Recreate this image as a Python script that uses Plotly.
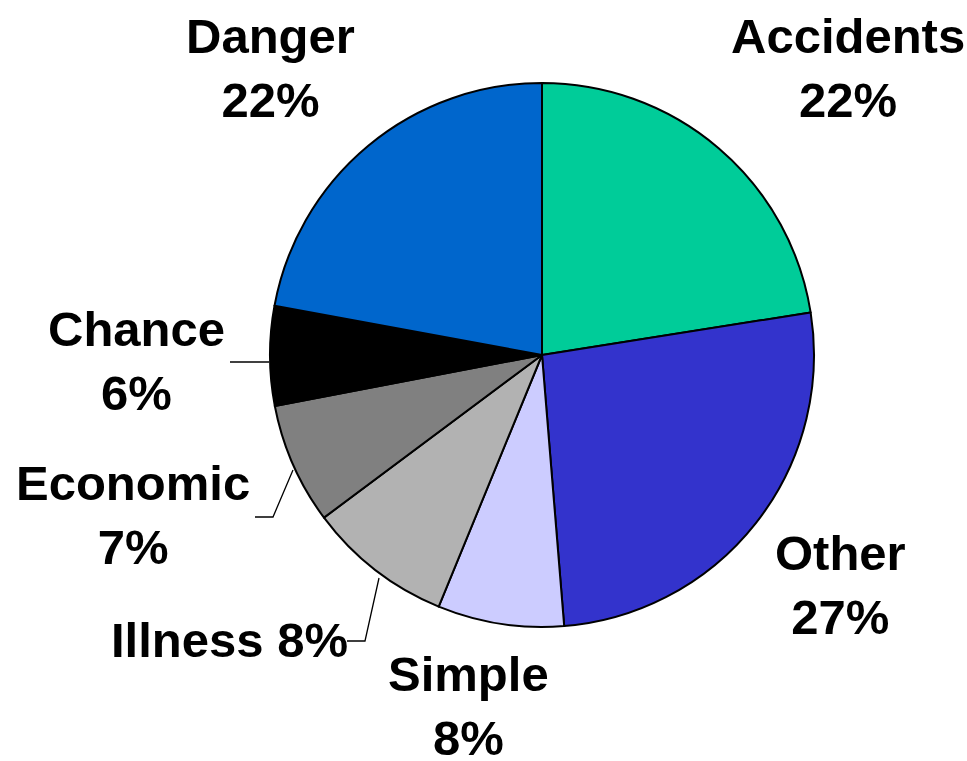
import plotly.graph_objects as go

categories = ["Accidents", "Other", "Simple", "Illness", "Economic", "Chance", "Danger"]
values = [22.5, 26.2, 7.5, 8.6, 7.2, 5.9, 22.1]
pct_labels = ["22%", "27%", "8%", "8%", "7%", "6%", "22%"]
colors = ["#00CC99", "#3333CC", "#CCCCFF", "#B2B2B2", "#808080", "#000000", "#0066CC"]

W, H = 967, 761
cx, cy, r = 542, 355, 272

fig = go.Figure(go.Pie(
    labels=categories,
    values=values,
    sort=False,
    direction="clockwise",
    rotation=0,
    marker=dict(colors=colors, line=dict(color="#000000", width=2)),
    textinfo="none",
    hoverinfo="label+percent",
    showlegend=False,
    domain=dict(x=[(cx - r) / W, (cx + r) / W], y=[(H - cy - r) / H, (H - cy + r) / H]),
))

# label layout (pixel positions of label block centers)
label_pos = {
    "Accidents": (848, 68, True),
    "Other": (840, 585, True),
    "Simple": (468, 706, True),
    "Illness": (229, 640, False),
    "Economic": (133, 515, True),
    "Chance": (136, 361, True),
    "Danger": (270, 68, True),
}

font = dict(family="Liberation Sans, Arial, sans-serif", size=49, color="#000000")
for cat, pct in zip(categories, pct_labels):
    px, py, two = label_pos[cat]
    txt = f"<b>{cat}<br>{pct}</b>" if two else f"<b>{cat} {pct}</b>"
    fig.add_annotation(x=px / W, y=1 - py / H, xref="paper", yref="paper",
                       text=txt, showarrow=False, xanchor="center", yanchor="middle",
                       font=font, align="center")

# leader lines
leaders = [
    [(230, 362), (269, 362)],
    [(293, 470), (273, 517), (255, 517)],
    [(379, 578), (365, 641), (347, 641)],
]
for pts in leaders:
    path = "M " + " L ".join(f"{x / W},{1 - y / H}" for x, y in pts)
    fig.add_shape(type="path", path=path, xref="paper", yref="paper",
                  line=dict(color="#000000", width=1.3))

fig.update_layout(width=W, height=H, margin=dict(l=0, r=0, t=0, b=0),
                  paper_bgcolor="white", plot_bgcolor="white")
fig.write_html("out.html", config={"displayModeBar": False},
               post_script="document.body.style.margin='0';document.body.style.overflow='hidden';")
